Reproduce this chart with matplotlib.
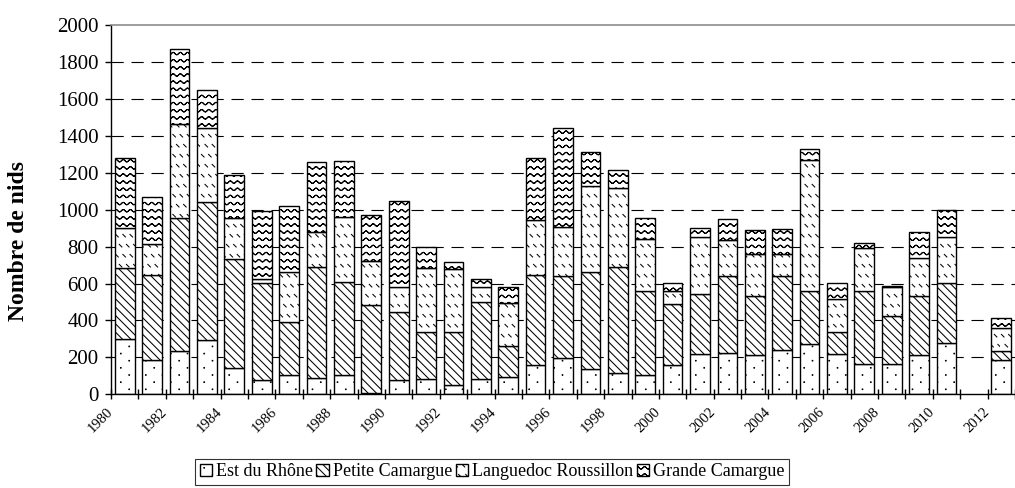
import warnings
warnings.filterwarnings('ignore')
import numpy as np
import matplotlib
matplotlib.use('Agg')
import matplotlib.pyplot as plt
import matplotlib.hatch as mhatch
from matplotlib.path import Path

# ---------------- data ----------------
years = list(range(1980, 2013))
nan = float('nan')
est_du_rhone = [300, 188, 233, 294, 143, 78, 106, 90, 106, 9, 78, 83, 51, 83, 96, 159,
                195, 135, 114, 105, 159, 218, 226, 211, 240, 271, 218, 166, 166, 211,
                278, nan, 188]
petite_camargue = [386, 458, 720, 746, 588, 525, 286, 601, 502, 473, 366, 253, 285, 419,
                   166, 487, 444, 526, 577, 453, 330, 324, 413, 323, 399, 287, 121, 392,
                   256, 323, 325, nan, 45]
languedoc_roussillon = [216, 166, 511, 404, 222, 22, 269, 190, 352, 238, 135, 346, 341,
                        79, 234, 300, 269, 465, 428, 285, 69, 310, 197, 226, 121, 711,
                        177, 233, 157, 204, 249, nan, 128]
grande_camargue = [376, 255, 406, 204, 236, 368, 361, 375, 304, 251, 466, 114, 38, 45, 83,
                   332, 536, 188, 98, 110, 45, 50, 112, 128, 135, 61, 87, 28, 9, 143, 148,
                   nan, 54]
series_names = ['Est du Rhône', 'Petite Camargue', 'Languedoc Roussillon', 'Grande Camargue']
series_values = [est_du_rhone, petite_camargue, languedoc_roussillon, grande_camargue]
y_ticks = list(range(0, 2001, 200))
ylabel = 'Nombre de nids'

# ---------------- custom hatch patterns ----------------
def _polyline_pair(pts):
    # forward then backward so that the filled area is zero
    pts = np.asarray(pts)
    v = np.concatenate([pts, pts[::-1]])
    c = np.full(len(v), Path.LINETO, dtype=Path.code_type)
    c[0] = Path.MOVETO
    return v, c


def _wave_paths():
    out = []
    nrows, nper, spp = 14, 14, 12
    xs = np.linspace(0, 1, nper * spp + 1)
    for r in range(nrows):
        y0 = (r + 0.5) / nrows
        ys = y0 + 0.012 * np.sin(2 * np.pi * nper * xs)
        out.append(_polyline_pair(np.column_stack([xs, ys])))
    return out


def _dash_paths():
    out = []
    nrows, ncols, d = 10, 14, 0.026
    for r in range(nrows):
        y0 = (r + 0.3) / nrows
        shift = 0.5 / ncols if r % 2 else 0.0
        for c in range(ncols):
            x0 = ((c + 0.2) / ncols + shift) % 1.0
            v = np.array([[x0, y0 + d], [x0 + d, y0]])
            cc = np.array([Path.MOVETO, Path.LINETO], dtype=Path.code_type)
            out.append((v, cc))
    return out


def _dot_paths():
    out = []
    nrows, ncols, rad = 14, 6, 0.004
    ang = np.linspace(0, 2 * np.pi, 9)
    circ = np.column_stack([np.cos(ang), np.sin(ang)]) * rad
    for r in range(nrows):
        y0 = (r + 0.5) / nrows
        shift = 0.5 / ncols if r % 2 else 0.0
        for c in range(ncols):
            x0 = ((c + 0.25) / ncols + shift) % 1.0
            v = circ + [x0, y0]
            cc = np.full(len(v), Path.LINETO, dtype=Path.code_type)
            cc[0] = Path.MOVETO
            cc[-1] = Path.CLOSEPOLY
            out.append((v, cc))
    return out


class CustomHatch(mhatch.HatchPatternBase):
    def __init__(self, hatch, density):
        self.parts = []
        if '~' in hatch:
            self.parts += _wave_paths()
        if ';' in hatch:
            self.parts += _dash_paths()
        if ':' in hatch:
            self.parts += _dot_paths()
        self.num_vertices = int(sum(len(v) for v, _ in self.parts))

    def set_vertices_and_codes(self, vertices, codes):
        i = 0
        for v, c in self.parts:
            n = len(v)
            vertices[i:i + n] = v
            codes[i:i + n] = c
            i += n


hatches = ['.', '\\' * 4, '\\', 'xx']
try:
    mhatch._hatch_types.append(CustomHatch)
    from matplotlib.patches import Rectangle
    Rectangle((0, 0), 1, 1, hatch='~')
    hatches = [':', '\\' * 4, ';', '~']
except Exception:
    pass

# ---------------- figure ----------------
plt.rcParams['font.family'] = ['Liberation Serif', 'DejaVu Serif']
plt.rcParams['hatch.linewidth'] = 0.75
plt.rcParams['hatch.color'] = 'black'

fig = plt.figure(figsize=(10.15, 4.88), dpi=100)
ax = fig.add_axes([0.1094, 0.192, 0.8906, 0.7568])

x = np.arange(len(years))
bottom = np.zeros(len(years))
handles = []
for name, vals, h in zip(series_names, series_values, hatches):
    v = np.array(vals, dtype=float)
    bars = ax.bar(x, v, 0.72, bottom=bottom, facecolor='white', edgecolor='black',
                  linewidth=1.0, hatch=h, label=name, zorder=2)
    handles.append(bars)
    bottom = bottom + v

# y axis
ax.set_ylim(0, 2000)
ax.set_yticks(y_ticks)
ax.set_yticklabels([str(t) for t in y_ticks])
ax.tick_params(axis='y', direction='out', length=4, width=1, labelsize=15, pad=5)
for yv in y_ticks[1:-1]:
    ax.axhline(yv, color='black', lw=0.8, ls=(0, (11, 7)), zorder=1)

# x axis
ax.set_xlim(-0.5, 32.11)
ax.set_xticks(np.arange(-0.5, len(years) + 0.5, 1.0))
ax.set_xticklabels([])
ax.tick_params(axis='x', which='major', direction='inout', length=7, width=1)
label_years = years[::2]
ax.set_xticks([years.index(y) - 0.35 for y in label_years], minor=True)
ax.set_xticklabels([str(y) for y in label_years], minor=True, rotation=45, ha='right',
                   fontsize=10.5)
ax.tick_params(axis='x', which='minor', length=0, pad=8)

ax.spines['right'].set_visible(False)
ax.spines['top'].set_color('#8c8c8c')
ax.spines['top'].set_linewidth(1.2)
ax.spines['left'].set_linewidth(1.0)
ax.spines['bottom'].set_linewidth(1.0)

ax.set_ylabel(ylabel, fontsize=17, fontweight='bold')
ax.yaxis.set_label_coords(-0.0907, 0.415)

leg = fig.legend(handles, series_names, loc='center', bbox_to_anchor=(0.4847, 0.033),
                 ncol=4, fontsize=13, frameon=True, fancybox=False, edgecolor='black',
                 handlelength=0.7, handleheight=0.7, handletextpad=0.2,
                 columnspacing=0.2, borderpad=0.25, borderaxespad=0.0)
leg.get_frame().set_linewidth(0.8)

fig.savefig('out.png', dpi=100)
